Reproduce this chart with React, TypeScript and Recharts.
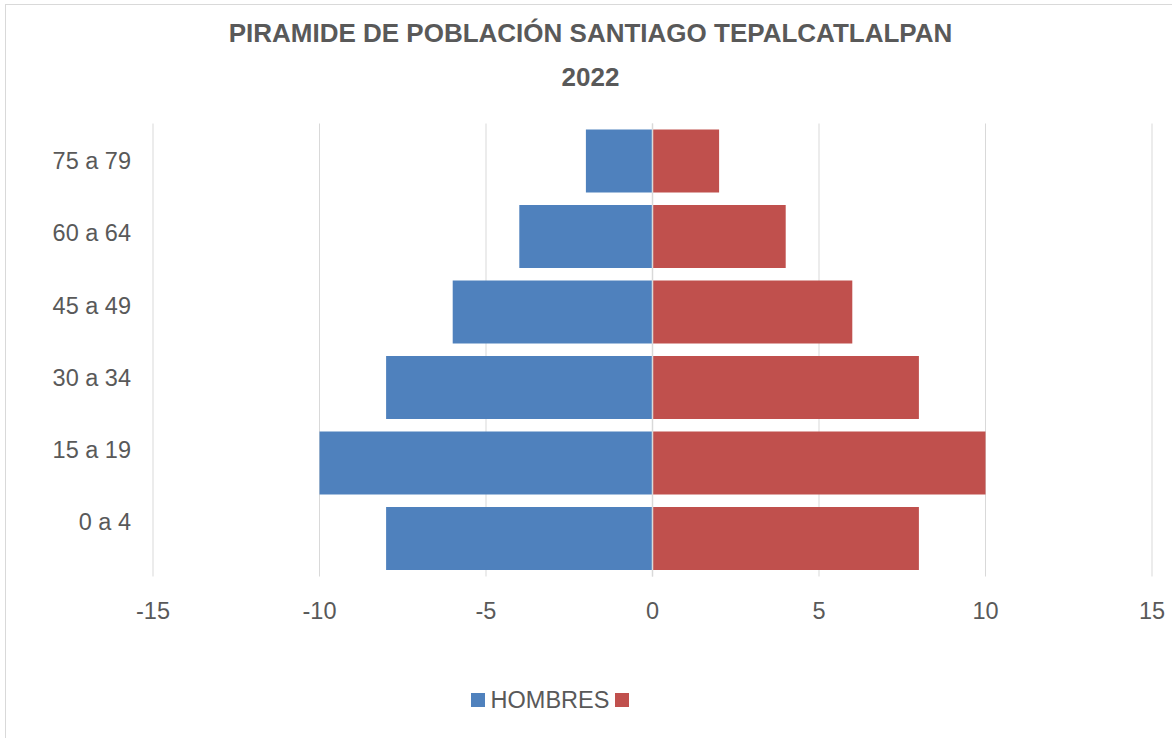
import React from 'react';
import { BarChart, Bar, XAxis, YAxis, CartesianGrid, Legend, ReferenceLine } from 'recharts';

const ageGroups = ['75 a 79', '60 a 64', '45 a 49', '30 a 34', '15 a 19', '0 a 4'];
const hombres = [-2, -4, -6, -8, -10, -8];
const mujeres = [2, 4, 6, 8, 10, 8];
const xTicks = [-15, -10, -5, 0, 5, 10, 15];

const data = ageGroups.map((g, i) => ({ grupo: g, HOMBRES: hombres[i], MUJERES: mujeres[i] }));

const FONT = '"Liberation Sans", Arial, sans-serif';
const GRAY = '#595959';

// labels in the original drift slightly upward relative to the bars
const AgeTick = (props: any) => {
  const { x, y, payload, index } = props;
  return (
    <text x={x - 14} y={y - index * 3.3} dy={8} textAnchor="end" fill={GRAY} fontSize={23.5} fontFamily={FONT}>
      {payload.value}
    </text>
  );
};

const LegendBox = () => (
  <div style={{ display: 'flex', justifyContent: 'center', alignItems: 'center', fontFamily: FONT, fontSize: 23.5, color: GRAY, height: 26 }}>
    <span style={{ width: 14, height: 14, background: '#4F81BD', display: 'inline-block', marginRight: 6 }} />
    <span>HOMBRES</span>
    <span style={{ width: 14, height: 14, background: '#C0504D', display: 'inline-block', marginLeft: 6 }} />
  </div>
);

export default function App() {
  return (
    <div style={{ position: 'absolute', left: 0, top: 0, width: 1172, height: 738, overflow: 'hidden', background: '#fff' }}>
      <div style={{ position: 'absolute', left: 5, top: 4, width: 1300, height: 900, border: '1px solid #d9d9d9' }} />
      <div style={{ position: 'absolute', left: 0, top: 11, width: 1181, textAlign: 'center', fontFamily: FONT, fontWeight: 'bold', fontSize: 26, color: GRAY, lineHeight: '44px' }}>
        PIRAMIDE DE POBLACIÓN SANTIAGO TEPALCATLALPAN
        <br />
        2022
      </div>
      <div style={{ position: 'absolute', left: 0, top: 0 }}>
        <BarChart
          width={1172}
          height={738}
          data={data}
          layout="vertical"
          stackOffset="sign"
          margin={{ top: 123.5, right: 20, bottom: 131.5, left: 61 }}
        >
          <CartesianGrid horizontal={false} stroke="#d9d9d9" />
          <XAxis
            type="number"
            domain={[-15, 15]}
            ticks={xTicks}
            axisLine={false}
            tickLine={false}
            tickMargin={20}
            height={30}
            tick={{ fill: GRAY, fontSize: 23.5, fontFamily: FONT }}
          />
          <YAxis type="category" dataKey="grupo" width={92} axisLine={false} tickLine={false} tick={<AgeTick />} />
          <Bar dataKey="HOMBRES" stackId="a" fill="#4F81BD" barSize={63} isAnimationActive={false} />
          <Bar dataKey="MUJERES" stackId="a" fill="#C0504D" barSize={63} isAnimationActive={false} />
          <ReferenceLine x={0} stroke="#d9d9d9" strokeWidth={1.5} />
          <Legend content={<LegendBox />} wrapperStyle={{ left: 0, width: 1100, top: 687, height: 0, overflow: 'visible' }} />
        </BarChart>
      </div>
    </div>
  );
}
